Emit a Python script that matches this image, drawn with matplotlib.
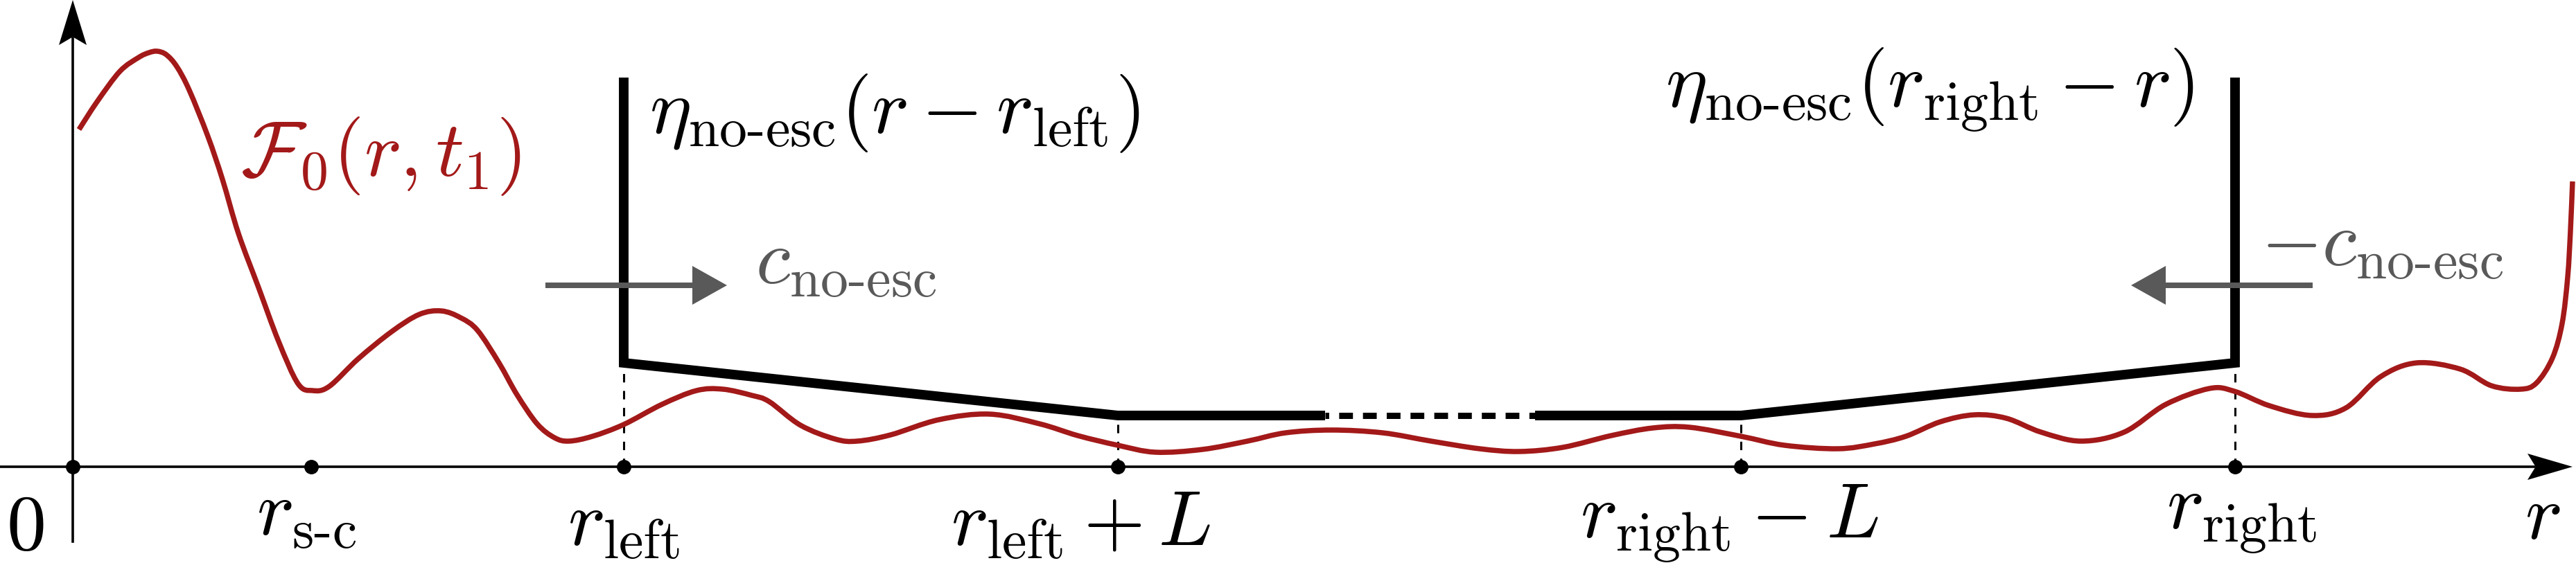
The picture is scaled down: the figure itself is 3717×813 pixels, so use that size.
import numpy as np
import matplotlib
matplotlib.use('Agg')
from matplotlib import pyplot as plt
from matplotlib.patches import Polygon, PathPatch
from matplotlib.path import Path

plt.rcParams['mathtext.fontset'] = 'cm'

RED = '#a31919'
GREY = '#595959'
FS = 82

# red profile F_0(r, t_1)
prof_r = [0.09, 0.35, 0.68, 0.95, 1.10, 1.22, 1.35, 1.50, 1.68, 1.95, 2.16, 2.39,
          2.68, 2.97, 3.25, 3.46, 3.70, 4.12, 4.60, 5.00, 5.32, 5.60, 5.84, 6.15,
          6.41, 6.70, 6.95, 7.16, 7.50, 7.95, 8.50, 9.00, 9.38, 9.80, 10.05, 10.50,
          11.00, 11.32, 11.80, 12.50, 13.23, 13.95, 14.50, 15.08, 15.62, 16.30, 16.95,
          17.50, 18.16, 18.90, 19.60, 20.30, 20.87, 21.50, 22.20, 22.80, 23.33, 24.07,
          24.70, 25.47, 26.00, 26.45, 26.95, 27.44, 27.90, 28.40, 28.98, 29.60, 30.20,
          30.83, 31.19, 31.70, 32.31, 32.80, 33.30, 33.82, 34.45, 34.90, 35.32, 35.55,
          35.78, 35.92, 36.00, 36.04, 36.07]
prof_f = [4.87, 5.27, 5.71, 5.91, 5.98, 6.00, 5.95, 5.78, 5.44, 4.77, 4.15, 3.37,
          2.59, 1.81, 1.20, 1.10, 1.16, 1.56, 1.95, 2.20, 2.25, 2.15, 1.97, 1.50,
          1.04, 0.62, 0.42, 0.37, 0.44, 0.61, 0.90, 1.10, 1.12, 1.03, 0.94, 0.60,
          0.40, 0.37, 0.46, 0.68, 0.76, 0.62, 0.45, 0.31, 0.21, 0.25, 0.37,
          0.49, 0.53, 0.49, 0.37, 0.26, 0.22, 0.28, 0.45, 0.56, 0.57, 0.44,
          0.31, 0.26, 0.33, 0.44, 0.65, 0.75, 0.70, 0.50, 0.37, 0.50, 0.90,
          1.13, 1.09, 0.88, 0.74, 0.85, 1.30, 1.50, 1.41, 1.17, 1.12, 1.21,
          1.57, 2.07, 2.74, 3.41, 4.12]

# marked points on the r axis
mark_r = [0.0, 3.44, 7.95, 15.08, 24.07, 31.20]
mark_lab = [r'$0$', r'$r_{\text{s-c}}$', r'$r_{\text{left}}$', r'$r_{\text{left}}+L$',
            r'$r_{\text{right}}-L$', r'$r_{\text{right}}$']

# barrier eta_no-esc (left edge, ramp, plateau, ramp, right edge)
eta_r = [7.95, 7.95, 15.08, 24.07, 31.20, 31.20]
eta_h = [5.62, 1.50, 0.74, 0.74, 1.50, 5.62]
gap_r = [18.07, 21.10]

# front speed arrows
c_y = 2.62
c_left = [6.82, 9.44]
c_right = [32.32, 29.70]


def stealth(ax, tip, d, length, half, color):
    tip = np.array(tip, float)
    d = np.array(d, float)
    n = np.array([-d[1], d[0]])
    pts = [tip, tip - length * d + half * n, tip - 0.82 * length * d,
           tip - length * d - half * n]
    ax.add_patch(Polygon(pts, closed=True, fc=color, ec='none', zorder=6))


def tri(ax, tip, d, length, half, color):
    tip = np.array(tip, float)
    d = np.array(d, float)
    n = np.array([-d[1], d[0]])
    pts = [tip, tip - length * d + half * n, tip - length * d - half * n]
    ax.add_patch(Polygon(pts, closed=True, fc=color, ec='none', zorder=7))


def smooth_path(xs, ys):
    # catmull-rom through the read points, drawn as cubic bezier pieces
    p = np.column_stack([xs, ys])
    verts = [p[0]]
    codes = [Path.MOVETO]
    for i in range(len(p) - 1):
        p0 = p[max(i - 1, 0)]
        p3 = p[min(i + 2, len(p) - 1)]
        c1 = p[i] + (p[i + 1] - p0) / 6.0
        c2 = p[i + 1] - (p3 - p[i]) / 6.0
        verts += [c1, c2, p[i + 1]]
        codes += [Path.CURVE4] * 3
    return Path(verts, codes)


fig = plt.figure(figsize=(37.17, 8.13), dpi=100)
ax = fig.add_axes([0, 0, 1, 1])
ax.set_xlim(-1.05, 36.12)
ax.set_ylim(-1.39, 6.74)
ax.axis('off')

# axes with stealth heads
ax.plot([-1.05, 36.07 - 0.55], [0, 0], color='k', lw=2.6, zorder=4)
stealth(ax, (36.07, 0), (1, 0), 0.65, 0.19, 'k')
ax.plot([0, 0], [-1.08, 6.74 - 0.55], color='k', lw=2.6, zorder=4)
stealth(ax, (0, 6.74), (0, 1), 0.65, 0.20, 'k')

# profile
ax.add_patch(PathPatch(smooth_path(prof_r, prof_f), fc='none', ec=RED, lw=5.4,
                       capstyle='butt', joinstyle='round', zorder=3))

# barrier
left_r = eta_r[:3] + [gap_r[0]]
left_h = eta_h[:3] + [eta_h[2]]
right_r = [gap_r[1]] + eta_r[3:]
right_h = [eta_h[3]] + eta_h[3:]
for xs, ys in ((left_r, left_h), (right_r, right_h)):
    ax.plot(xs, ys, color='k', lw=10, solid_joinstyle='miter',
            solid_capstyle='butt', zorder=4)
ax.plot(gap_r, [eta_h[2], eta_h[3]], color='k', lw=6.5,
        linestyle=(1.6, (2.2, 1.6)), dash_capstyle='butt', zorder=4)

# guides down to the axis
for i in range(1, 5):
    ax.plot([eta_r[i], eta_r[i]], [0, eta_h[i]], color='k', lw=2.2,
            dashes=(4, 4), zorder=2)

# marks
ax.plot(mark_r, np.zeros(len(mark_r)), 'o', ms=14, color='k', zorder=6)

# speed arrows
ax.plot([c_left[0], c_left[1] - 0.45], [c_y, c_y], color=GREY, lw=5.8,
        solid_capstyle='butt', zorder=5)
tri(ax, (c_left[1], c_y), (1, 0), 0.50, 0.28, GREY)
ax.plot([c_right[0], c_right[1] + 0.45], [c_y, c_y], color=GREY, lw=5.8,
        solid_capstyle='butt', zorder=5)
tri(ax, (c_right[1], c_y), (-1, 0), 0.50, 0.28, GREY)

# texts
ax.text(2.42, 4.20, r'$\mathcal{F}_0(r,t_1)$', color=RED, fontsize=FS,
        ha='left', va='baseline')
ax.text(8.32, 4.82, r'$\eta_{\text{no-esc}}(r-r_{\text{left}})$', color='k',
        fontsize=FS, ha='left', va='baseline')
ax.text(22.98, 5.18, r'$\eta_{\text{no-esc}}(r_{\text{right}}-r)$', color='k',
        fontsize=FS, ha='left', va='baseline')
ax.text(9.85, 2.64, r'$c_{\text{no-esc}}$', color=GREY, fontsize=FS,
        ha='left', va='baseline')
ax.text(31.57, 2.90, r'$-c_{\text{no-esc}}$', color=GREY, fontsize=FS,
        ha='left', va='baseline')

lab_x = [-0.69, 3.37, 7.95, 14.55, 23.90, 31.30]
lab_y = [-1.20, -0.99, -1.14, -1.14, -1.04, -0.91]
for s, x, y in zip(mark_lab, lab_x, lab_y):
    ax.text(x, y, s, fontsize=FS, ha='center', va='baseline')
ax.text(35.64, -1.04, r'$r$', fontsize=FS, ha='center', va='baseline')

fig.savefig('out.png', dpi=100)
